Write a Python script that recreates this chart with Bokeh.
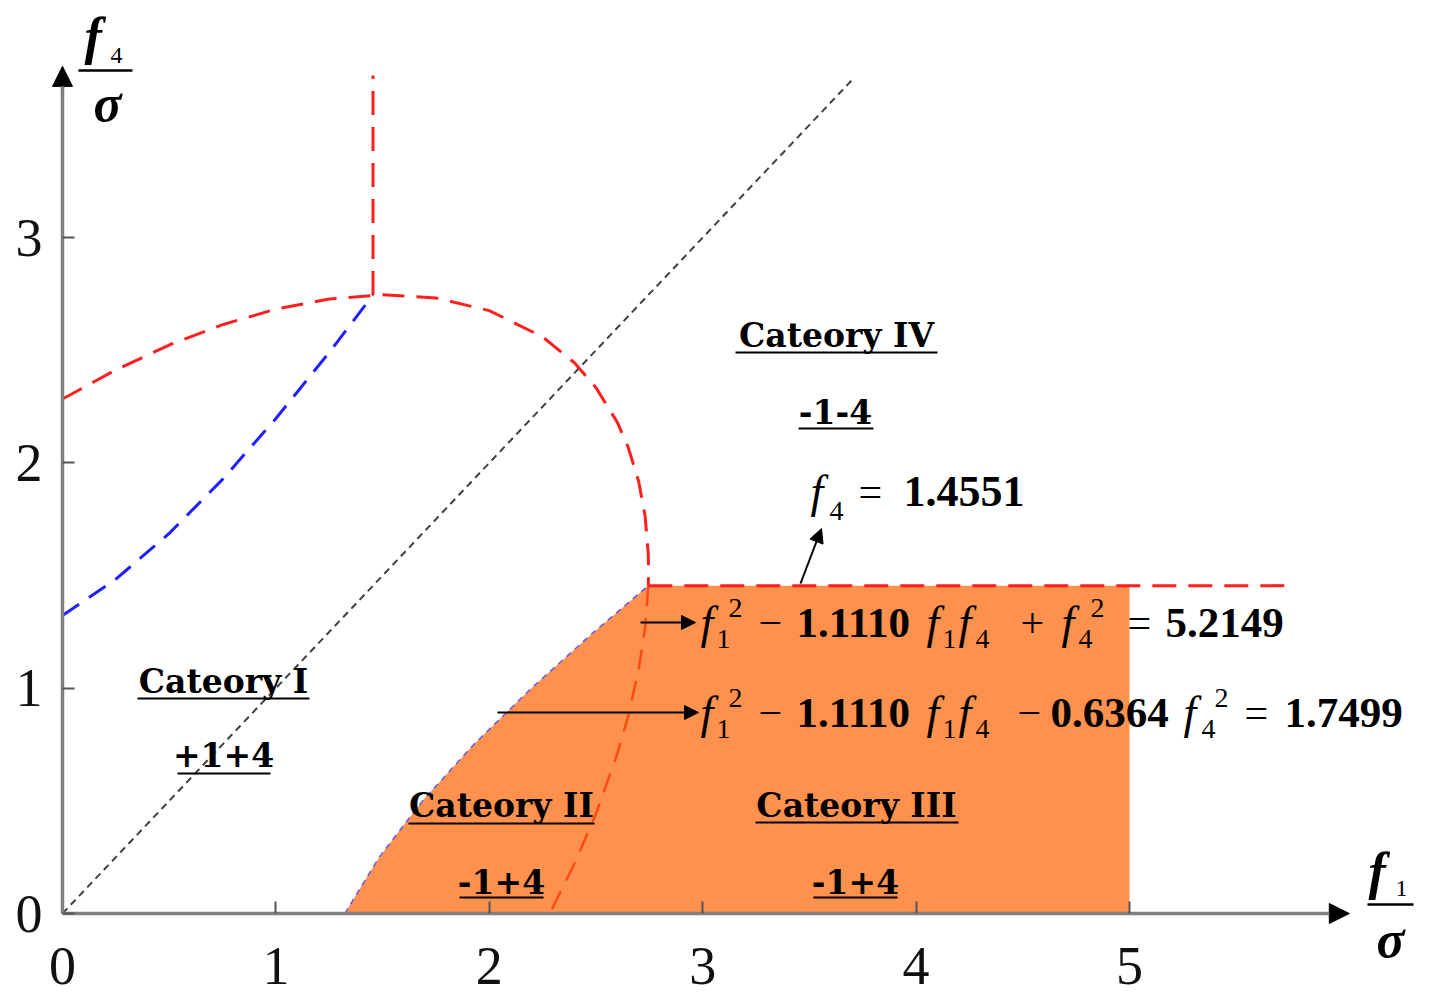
from bokeh.plotting import figure
from bokeh.models import Label, Arrow, NormalHead, FixedTicker, Range1d
from bokeh.embed import file_html
from bokeh.resources import INLINE

# ---------------- data ----------------
# ellipse  f1^2 - 1.1110 f1 f4 + f4^2 = 5.2149
ell_f1 = [0.0, 0.25, 0.5, 0.75, 1.0, 1.25, 1.5, 1.75, 2.0, 2.25, 2.4, 2.5, 2.6, 2.65,
          2.7, 2.73, 2.745, 2.7463, 2.745, 2.73, 2.7, 2.65, 2.6, 2.5, 2.4, 2.2836]
ell_f4 = [2.2836, 2.4130, 2.5232, 2.6134, 2.6824, 2.7277, 2.7462, 2.7321, 2.6760, 2.5593,
          2.4433, 2.3340, 2.1798, 2.0716, 1.9175, 1.7651, 1.5955, 1.5256, 1.4541, 1.2680,
          1.0823, 0.8726, 0.7089, 0.4435, 0.2231, 0.0]
# hyperbola  f1^2 - 1.1110 f1 f4 - 0.6364 f4^2 = 1.7499
hyp_f1 = [1.3228, 1.4839, 1.6871, 1.9271, 2.1971, 2.4906, 2.7450]
hyp_f4 = [0.0, 0.25, 0.5, 0.75, 1.0, 1.25, 1.4551]
f4_bound = 1.4551
f1_bound = 1.4551
region_f1_end = 5.0
hline_f1_end = 5.76
vline_f4_end = 3.72
diag_f = [0.0, 3.7]
x_ticks = [0, 1, 2, 3, 4, 5]
y_ticks = [0, 1, 2, 3]
x_axis_end = 6.03
y_axis_end = 3.76

# ---------------- layout helpers ----------------
SX, SY = 213.4, 225.3      # pixels per unit
X0, Y0 = 62, 913           # screen position of the origin
W, H = 1425, 995


def X(px):
    return (px - X0) / SX


def Y(py):
    return (Y0 - py) / SY


p = figure(frame_width=W, frame_height=H,
           x_range=Range1d(X(0), X(W)), y_range=Range1d(Y(H), Y(0)),
           output_backend="svg", toolbar_location=None, min_border=0)
p.xgrid.visible = False
p.ygrid.visible = False
p.outline_line_color = None
p.background_fill_color = "white"
p.border_fill_color = "white"

SERIF = "Liberation Serif"
for ax in (p.xaxis[0], p.yaxis[0]):
    ax.fixed_location = 0
    ax.axis_line_color = "#7f7f7f"
    ax.axis_line_width = 3.5
    ax.major_tick_in = 12
    ax.major_tick_out = 0
    ax.minor_tick_in = 0
    ax.minor_tick_out = 0
    ax.major_tick_line_color = "#555555"
    ax.major_tick_line_width = 2
    ax.major_label_text_font = SERIF
    ax.major_label_text_font_size = "54px"
    ax.major_label_text_color = "#111111"
p.xaxis.ticker = FixedTicker(ticks=x_ticks)
p.yaxis.ticker = FixedTicker(ticks=y_ticks)
p.xaxis.bounds = (0, x_axis_end - 0.05)
p.yaxis.bounds = (0, y_axis_end - 0.05)
p.xaxis.major_label_standoff = 34
p.yaxis.major_label_standoff = 20

# axis arrow heads
p.add_layout(Arrow(end=NormalHead(size=20, fill_color="black", line_color="black"),
                   x_start=x_axis_end - 0.1, y_start=0, x_end=x_axis_end, y_end=0,
                   line_color="#7f7f7f", line_width=3.5))
p.add_layout(Arrow(end=NormalHead(size=20, fill_color="black", line_color="black"),
                   x_start=0, y_start=y_axis_end - 0.1, x_end=0, y_end=y_axis_end,
                   line_color="#7f7f7f", line_width=3.5))

# ---------------- region and curves ----------------
p.patch(hyp_f1 + [region_f1_end, region_f1_end], hyp_f4 + [f4_bound, 0.0],
        fill_color="#fe914d", line_color=None)
p.line(diag_f, diag_f, line_color="#404040", line_width=2, line_dash="7 5")
p.line(ell_f1[:19], ell_f4[:19], line_color="#ff1f1f", line_width=3, line_dash="22 12")
p.line(ell_f1[18:], ell_f4[18:], line_color="#ff4a14", line_width=2.5, line_dash="20 12")
p.line([f1_bound, f1_bound], [hyp_f1[-1], vline_f4_end], line_color="#ff1f1f",
       line_width=3, line_dash="24 12")
p.line([hyp_f1[-1], hline_f1_end], [f4_bound, f4_bound], line_color="#ff1f1f",
       line_width=3, line_dash="24 12")
p.line(hyp_f4, hyp_f1, line_color="#1f1fff", line_width=3, line_dash="20 12")
p.line(hyp_f1, hyp_f4, line_color="#4040ff", line_width=1.5, line_dash="6 5", line_alpha=0.8)


# ---------------- texts (positions are visual centres) ----------------
def txt(px, py, s, size, style="normal", align="left", font=SERIF):
    p.add_layout(Label(x=X(px), y=Y(py), text=s, text_font=font,
                       text_font_size=f"{size}px", text_font_style=style,
                       text_align=align, text_baseline="middle", text_color="black"))


CAT = "DejaVu Serif"
cats = [("Cateory IV", 836, 335, 735, 937, 352),
        ("-1-4", 835, 411, 798, 873, 428),
        ("Cateory I", 223, 681, 137, 309, 698),
        ("+1+4", 223, 754, 177, 270, 773),
        ("Cateory II", 501, 805, 408, 594, 823),
        ("-1+4", 501, 881, 459, 543, 897),
        ("Cateory III", 856, 805, 755, 958, 822),
        ("-1+4", 855, 881, 813, 897, 897)]
ux0, ux1, uy = [], [], []
for s, cx, cy, u0, u1, uyy in cats:
    txt(cx, cy, s, 33, "bold", "center", CAT)
    ux0.append(X(u0))
    ux1.append(X(u1))
    uy.append(Y(uyy))
p.segment(x0=ux0, y0=uy, x1=ux1, y1=uy, line_color="black", line_width=2)

FI, FB, SUB = 46, 43, 28
# equation 1
C1 = 622
txt(700, C1, "f", FI, "italic")
txt(716, C1 + 16, "1", SUB)
txt(728, C1 - 15, "2", SUB)
txt(758, C1, "\u2212", 42)
txt(796, C1, "1.1110", FB, "bold")
txt(926, C1, "f", FI, "italic")
txt(942, C1 + 16, "1", SUB)
txt(958, C1, "f", FI, "italic")
txt(975, C1 + 16, "4", SUB)
txt(1020, C1, "+", 42)
txt(1061, C1, "f", FI, "italic")
txt(1078, C1 + 16, "4", SUB)
txt(1090, C1 - 15, "2", SUB)
txt(1127, C1, "=", 42)
txt(1165, C1, "5.2149", FB, "bold")
# equation 2
C2 = 712
txt(700, C2, "f", FI, "italic")
txt(716, C2 + 16, "1", SUB)
txt(728, C2 - 15, "2", SUB)
txt(758, C2, "\u2212", 42)
txt(796, C2, "1.1110", FB, "bold")
txt(926, C2, "f", FI, "italic")
txt(942, C2 + 16, "1", SUB)
txt(958, C2, "f", FI, "italic")
txt(975, C2 + 16, "4", SUB)
txt(1017, C2, "\u2212", 42)
txt(1050, C2, "0.6364", FB, "bold")
txt(1183, C2, "f", FI, "italic")
txt(1201, C2 + 16, "4", SUB)
txt(1214, C2 - 15, "2", SUB)
txt(1244, C2, "=", 42)
txt(1284, C2, "1.7499", FB, "bold")
# f4 = 1.4551
C3 = 491
txt(810, C3, "f", FI, "italic")
txt(829, C3 + 19, "4", SUB)
txt(858, C3, "=", 42)
txt(903, C3, "1.4551", 44, "bold")

# annotation arrows
for (sx, sy, ex, ey) in [(640, 622, 695, 622), (497, 712, 698, 712), (800, 583, 821, 528)]:
    p.add_layout(Arrow(end=NormalHead(size=14, fill_color="black", line_color="black"),
                       x_start=X(sx), y_start=Y(sy), x_end=X(ex), y_end=Y(ey),
                       line_color="black", line_width=2))

# axis titles (fractions)
txt(84, 36, "f", 52, "bold italic")
txt(110, 55, "4", 24)
txt(107, 103, "\u03c3", 52, "bold italic", "center")
txt(1368, 871, "f", 52, "bold italic")
txt(1395, 888, "1", 24)
txt(1390, 939, "\u03c3", 52, "bold italic", "center")
p.segment(x0=[X(78), X(1367)], y0=[Y(70), Y(904)], x1=[X(132), X(1413)], y1=[Y(70), Y(904)],
          line_color="black", line_width=2.5)

open("out.html", "w").write(file_html(p, INLINE))
